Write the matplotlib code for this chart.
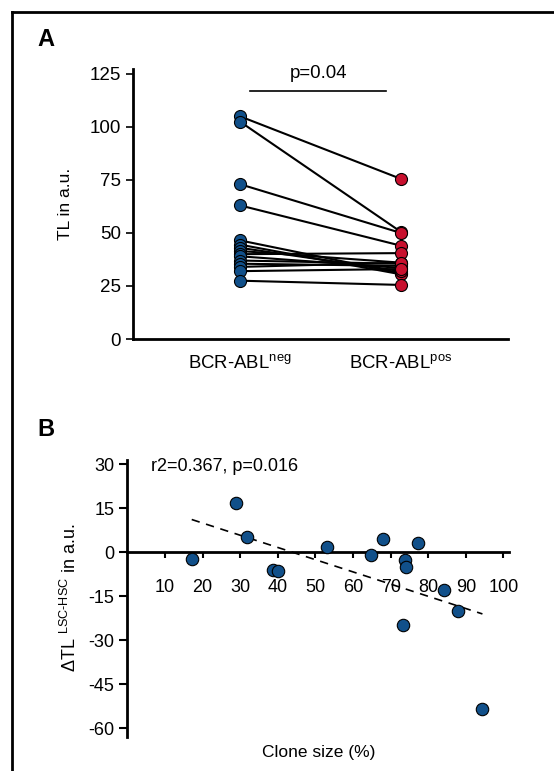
import numpy as np
import matplotlib
matplotlib.use("Agg")
import matplotlib.pyplot as plt
from matplotlib import font_manager
from matplotlib.lines import Line2D

# Panel A: paired telomere length (TL) values
groups = ["BCR-ABL$^{\\mathregular{neg}}$", "BCR-ABL$^{\\mathregular{pos}}$"]
tl_neg = [105, 102.5, 73, 63, 46.5, 44.5, 43, 41.5, 40, 39, 37, 35.5, 34, 32, 27.5]
tl_pos = [75.5, 50.5, 50, 44, 31, 30.5, 32, 36, 40.5, 33.5, 35.5, 34.5, 36, 33, 25.5]
a_yticks = [0, 25, 50, 75, 100, 125]
p_text_a = "p=0.04"

# Panel B: delta TL vs clone size
clone_size = [17.1, 29.0, 31.9, 38.7, 40.0, 53.0, 64.8, 67.9, 73.7, 74.2, 73.4, 77.4, 84.1, 87.8, 94.4]
delta_tl = [-2.2, 16.7, 5.1, -6.1, -6.5, 2.0, -1.0, 4.5, -2.5, -5.1, -24.7, 3.1, -12.8, -19.9, -53.6]
b_xticks = [10, 20, 30, 40, 50, 60, 70, 80, 90, 100]
b_yticks = [30, 15, 0, -15, -30, -45, -60]
stat_text_b = "r2=0.367, p=0.016"

BLUE = "#11508a"
RED = "#c8102e"

names = {f.name for f in font_manager.fontManager.ttflist}
SANS = "Liberation Sans"
NARROW = "Liberation Sans Narrow" if "Liberation Sans Narrow" in names else SANS
plt.rcParams["font.family"] = SANS
plt.rcParams["mathtext.fontset"] = "custom"
plt.rcParams["mathtext.rm"] = SANS
plt.rcParams["axes.unicode_minus"] = False

fig = plt.figure(figsize=(5.54, 7.71), dpi=100)

# outer frame (top and left edges visible)
fig.add_artist(Line2D([12 / 554, 12 / 554], [0, 1 - 12 / 771], color="black", lw=2,
                      transform=fig.transFigure))
fig.add_artist(Line2D([12 / 554, 1], [1 - 12 / 771, 1 - 12 / 771], color="black", lw=2,
                      transform=fig.transFigure))
fig.text(37 / 554, 1 - 40 / 771, "A", fontsize=17, fontweight="bold", ha="left", va="center")
fig.text(37 / 554, 1 - 430 / 771, "B", fontsize=17, fontweight="bold", ha="left", va="center")

# ---- Panel A ----
ax = fig.add_axes([0.240, 0.5603, 0.677, 0.3507])
for a, b in zip(tl_neg, tl_pos):
    ax.plot([0, 1], [a, b], color="black", lw=1.5, zorder=2)
ax.scatter(np.zeros(len(tl_neg)), tl_neg, s=75, color=BLUE, edgecolor="black", lw=0.8, zorder=3)
ax.scatter(np.ones(len(tl_pos)), tl_pos, s=75, color=RED, edgecolor="black", lw=0.8, zorder=3)
ax.set_xlim(-0.665, 1.665)
ax.set_ylim(0, 127.5)
ax.set_yticks(a_yticks)
ax.set_xticks([0, 1])
ax.set_xticklabels(groups, fontsize=13.4)
ax.tick_params(axis="x", length=0, pad=11)
ax.tick_params(axis="y", labelsize=13.5, length=5, width=1.2, direction="out")
for s in ["top", "right"]:
    ax.spines[s].set_visible(False)
for s in ["left", "bottom"]:
    ax.spines[s].set_linewidth(2)
ax.set_ylabel("TL in a.u.", fontsize=12.5)
ax.yaxis.set_label_coords(-0.16, 0.5)
ax.plot([0.062, 0.907], [117.1, 117.1], color="black", lw=1.2, clip_on=False)
ax.text(0.485, 121, p_text_a, ha="center", va="bottom", fontsize=13.4)

# ---- Panel B ----
bx = fig.add_axes([0.230, 0.0445, 0.689, 0.3595])
bx.scatter(clone_size, delta_tl, s=80, color=BLUE, edgecolor="black", lw=0.8, zorder=3)
xs = np.array(clone_size)
slope, icpt = np.polyfit(xs, np.array(delta_tl), 1)
fx = np.array([xs.min(), xs.max()])
bx.plot(fx, slope * fx + icpt, color="black", lw=1.2, ls=(0, (5, 4)), zorder=2)
bx.set_xlim(0, 101.5)
bx.set_ylim(-62.9, 31.7)
bx.set_xticks(b_xticks)
bx.set_yticks(b_yticks)
bx.spines["bottom"].set_position(("data", 0))
for s in ["top", "right"]:
    bx.spines[s].set_visible(False)
for s in ["left", "bottom"]:
    bx.spines[s].set_linewidth(2)
bx.tick_params(axis="x", labelsize=13, length=4, width=1.5, direction="out", pad=15)
bx.tick_params(axis="y", labelsize=13, length=6, width=1.5, direction="out")
bx.text(6.2, 29.2, stat_text_b, ha="left", va="center", fontsize=13)
bx.set_xlabel("Clone size (%)", fontsize=12.5, family=NARROW)
bx.xaxis.set_label_coords(0.5, -0.03)
bx.set_ylabel("$\\Delta$TL $^{\\mathregular{LSC\u2010HSC}}$ in a.u.", fontsize=13, family=NARROW)
bx.yaxis.set_label_coords(-0.125, 0.5)

fig.savefig("out.png", dpi=100)
